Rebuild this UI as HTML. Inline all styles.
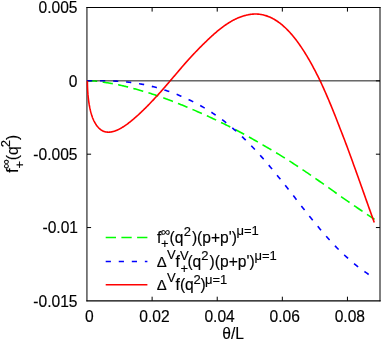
<!DOCTYPE html>
<html><head><meta charset="utf-8"><title>plot</title>
<style>html,body{margin:0;padding:0;background:#fff;}body{width:385px;height:348px;overflow:hidden;font-family:"Liberation Sans",sans-serif;}</style>
</head><body>
<svg width="385" height="348" viewBox="0 0 385 348" style="display:block;will-change:transform">
<rect width="385" height="348" fill="#fff"/>
<line x1="87.0" y1="80.83" x2="380.0" y2="80.83" stroke="#000" stroke-width="1" stroke-opacity="0.69"/>
<path d="M86.95,300.8 V7.5 M380.0,7.5 V300.8" fill="none" stroke="#000" stroke-width="1" stroke-linecap="square"/>
<path d="M86.95,7.5 H380.0" fill="none" stroke="#000" stroke-width="1" stroke-linecap="square"/>
<path d="M86.95,300.90000000000003 H380.0" fill="none" stroke="#000" stroke-width="1.2" stroke-linecap="square"/>
<line x1="152.112" y1="300.8" x2="152.112" y2="296.7" stroke="#000" stroke-width="1"/>
<line x1="152.112" y1="7.5" x2="152.112" y2="11.6" stroke="#000" stroke-width="1"/>
<line x1="217.224" y1="300.8" x2="217.224" y2="296.7" stroke="#000" stroke-width="1"/>
<line x1="217.224" y1="7.5" x2="217.224" y2="11.6" stroke="#000" stroke-width="1"/>
<line x1="282.336" y1="300.8" x2="282.336" y2="296.7" stroke="#000" stroke-width="1"/>
<line x1="282.336" y1="7.5" x2="282.336" y2="11.6" stroke="#000" stroke-width="1"/>
<line x1="347.448" y1="300.8" x2="347.448" y2="296.7" stroke="#000" stroke-width="1"/>
<line x1="347.448" y1="7.5" x2="347.448" y2="11.6" stroke="#000" stroke-width="1"/>
<line x1="87.0" y1="80.85" x2="91.1" y2="80.85" stroke="#000" stroke-width="1"/>
<line x1="380.0" y1="80.85" x2="375.9" y2="80.85" stroke="#000" stroke-width="1"/>
<line x1="87.0" y1="154.2" x2="91.1" y2="154.2" stroke="#000" stroke-width="1"/>
<line x1="380.0" y1="154.2" x2="375.9" y2="154.2" stroke="#000" stroke-width="1"/>
<line x1="87.0" y1="227.54999999999998" x2="91.1" y2="227.54999999999998" stroke="#000" stroke-width="1"/>
<line x1="380.0" y1="227.54999999999998" x2="375.9" y2="227.54999999999998" stroke="#000" stroke-width="1"/>
<clipPath id="cp"><rect x="86" y="0" width="299" height="348"/></clipPath><g clip-path="url(#cp)">
<path d="M87.00,80.75 L87.00,80.75 L87.01,80.75 L87.03,80.75 L87.05,80.75 L87.08,80.75 L87.12,80.75 L87.16,80.75 L87.21,80.75 L87.26,80.75 L87.32,80.75 L87.39,80.75 L87.46,80.75 L87.54,80.75 L87.63,80.75 L87.72,80.75 L87.82,80.75 L87.93,80.75 L88.04,80.76 L88.16,80.76 L88.29,80.76 L88.42,80.76 L88.56,80.76 L88.70,80.76 L88.85,80.77 L89.01,80.77 L89.17,80.77 L89.35,80.78 L89.52,80.78 L89.71,80.79 L89.90,80.79 L90.09,80.80 L90.29,80.80 L90.50,80.81 L90.72,80.81 L90.94,80.82 L91.17,80.83 L91.40,80.84 L91.65,80.85 L91.89,80.86 L92.15,80.87 L92.41,80.88 L92.67,80.89 L92.95,80.91 L93.23,80.92 L93.51,80.94 L93.81,80.95 L94.11,80.97 L94.41,80.99 L94.72,81.01 L95.04,81.03 L95.37,81.07 L95.70,81.11 L96.04,81.14 L96.38,81.18 L96.73,81.23 L97.09,81.27 L97.45,81.31 L97.82,81.36 L98.20,81.41 L98.58,81.46 L98.97,81.51 L99.37,81.57 L99.77,81.62 L100.18,81.68 L100.59,81.74 L101.01,81.81 L101.44,81.87 L101.88,81.94 L102.32,82.01 L102.76,82.08 L103.22,82.15 L103.68,82.23 L104.14,82.31 L104.62,82.39 L105.10,82.47 L105.58,82.54 L106.07,82.61 L106.57,82.68 L107.08,82.76 L107.59,82.83 L108.11,82.91 L108.63,83.00 L109.16,83.08 L109.70,83.17 L110.24,83.26 L110.79,83.35 L111.35,83.45 L111.91,83.55 L112.48,83.65 L113.06,83.76 L113.64,83.87 L114.23,83.98 L114.82,84.09 L115.43,84.21 L116.03,84.33 L116.65,84.45 L117.27,84.58 L117.90,84.71 L118.53,84.84 L119.17,84.98 L119.82,85.12 L120.47,85.27 L121.13,85.41 L121.79,85.57 L122.47,85.72 L123.15,85.88 L123.83,86.04 L124.52,86.21 L125.22,86.37 L125.93,86.55 L126.64,86.72 L127.35,86.90 L128.08,87.09 L128.81,87.28 L129.54,87.47 L130.29,87.66 L131.04,87.85 L131.79,88.04 L132.56,88.24 L133.32,88.44 L134.10,88.65 L134.88,88.86 L135.67,89.07 L136.46,89.29 L137.27,89.51 L138.07,89.73 L138.89,89.96 L139.71,90.20 L140.53,90.43 L141.37,90.67 L142.21,90.92 L143.05,91.17 L143.90,91.42 L144.76,91.68 L145.63,91.95 L146.50,92.21 L147.38,92.48 L148.26,92.76 L149.16,93.04 L150.05,93.32 L150.96,93.61 L151.87,93.90 L152.78,94.20 L153.71,94.50 L154.64,94.81 L155.57,95.12 L156.52,95.44 L157.46,95.75 L158.42,96.08 L159.38,96.41 L160.35,96.75 L161.32,97.10 L162.31,97.45 L163.29,97.81 L164.29,98.18 L165.29,98.54 L166.30,98.92 L167.31,99.30 L168.33,99.68 L169.35,100.07 L170.39,100.46 L171.43,100.86 L172.47,101.26 L173.52,101.67 L174.58,102.08 L175.65,102.50 L176.72,102.92 L177.80,103.35 L178.88,103.78 L179.97,104.22 L181.07,104.66 L182.17,105.11 L183.28,105.56 L184.40,106.02 L185.52,106.48 L186.65,106.95 L187.78,107.42 L188.93,107.90 L190.07,108.39 L191.23,108.88 L192.39,109.37 L193.56,109.87 L194.73,110.38 L195.91,110.89 L197.10,111.41 L198.29,111.93 L199.49,112.46 L200.70,112.99 L201.91,113.53 L203.13,114.07 L204.36,114.63 L205.59,115.18 L206.83,115.75 L208.07,116.31 L209.33,116.89 L210.58,117.47 L211.85,118.06 L213.12,118.65 L214.40,119.25 L215.68,119.86 L216.97,120.47 L218.27,121.09 L219.57,121.72 L220.88,122.35 L222.19,122.99 L223.52,123.64 L224.84,124.29 L226.18,124.95 L227.52,125.62 L228.87,126.29 L230.22,126.97 L231.58,127.66 L232.95,128.36 L234.32,129.06 L235.70,129.77 L237.09,130.49 L238.48,131.22 L239.88,131.95 L241.29,132.71 L242.70,133.48 L244.12,134.26 L245.54,135.04 L246.98,135.84 L248.41,136.64 L249.86,137.45 L251.31,138.27 L252.77,139.10 L254.23,139.94 L255.70,140.79 L257.18,141.64 L258.66,142.50 L260.15,143.38 L261.65,144.26 L263.15,145.12 L264.66,145.98 L266.17,146.85 L267.69,147.73 L269.22,148.62 L270.76,149.52 L272.30,150.43 L273.84,151.35 L275.40,152.27 L276.96,153.21 L278.53,154.16 L280.10,155.11 L281.68,156.08 L283.26,157.06 L284.86,158.04 L286.46,159.06 L288.06,160.09 L289.67,161.13 L291.29,162.17 L292.91,163.23 L294.55,164.30 L296.18,165.38 L297.83,166.46 L299.48,167.56 L301.13,168.67 L302.80,169.79 L304.47,170.92 L306.14,172.05 L307.83,173.20 L309.51,174.36 L311.21,175.52 L312.91,176.70 L314.62,177.88 L316.33,179.08 L318.06,180.28 L319.78,181.49 L321.52,182.71 L323.26,183.93 L325.00,185.17 L326.76,186.41 L328.52,187.66 L330.28,188.92 L332.06,190.18 L333.83,191.45 L335.62,192.73 L337.41,194.01 L339.21,195.30 L341.01,196.57 L342.83,197.82 L344.64,199.09 L346.47,200.35 L348.30,201.62 L350.13,202.89 L351.98,204.16 L353.83,205.43 L355.68,206.70 L357.55,207.97 L359.42,209.23 L361.29,210.50 L363.17,211.76 L365.06,213.02 L366.96,214.30 L368.86,215.59 L370.77,216.86 L372.68,218.12 L374.60,219.38" fill="none" stroke="#00ff00" stroke-width="1.6" stroke-dasharray="10.3 5.4"/>
<path d="M87.00,80.75 L87.00,80.75 L87.01,80.75 L87.03,80.75 L87.05,80.75 L87.08,80.75 L87.12,80.75 L87.16,80.75 L87.21,80.75 L87.26,80.75 L87.32,80.75 L87.39,80.75 L87.46,80.75 L87.54,80.75 L87.63,80.75 L87.72,80.75 L87.82,80.75 L87.93,80.75 L88.04,80.75 L88.16,80.75 L88.29,80.75 L88.42,80.75 L88.56,80.75 L88.70,80.75 L88.85,80.75 L89.01,80.75 L89.17,80.75 L89.34,80.75 L89.52,80.75 L89.70,80.75 L89.89,80.75 L90.09,80.75 L90.29,80.75 L90.50,80.75 L90.72,80.75 L90.94,80.75 L91.17,80.75 L91.40,80.75 L91.64,80.75 L91.89,80.75 L92.15,80.75 L92.41,80.75 L92.67,80.75 L92.95,80.75 L93.23,80.75 L93.51,80.74 L93.80,80.74 L94.10,80.74 L94.41,80.74 L94.72,80.74 L95.04,80.74 L95.36,80.74 L95.70,80.74 L96.03,80.74 L96.38,80.74 L96.73,80.74 L97.08,80.74 L97.45,80.74 L97.82,80.74 L98.19,80.74 L98.58,80.74 L98.97,80.75 L99.36,80.75 L99.76,80.75 L100.17,80.75 L100.59,80.75 L101.01,80.75 L101.44,80.76 L101.87,80.76 L102.31,80.76 L102.76,80.77 L103.21,80.77 L103.67,80.77 L104.14,80.78 L104.61,80.79 L105.09,80.79 L105.57,80.80 L106.07,80.81 L106.57,80.82 L107.07,80.82 L107.58,80.83 L108.10,80.85 L108.62,80.86 L109.15,80.87 L109.69,80.89 L110.23,80.90 L110.78,80.92 L111.34,80.94 L111.90,80.96 L112.47,80.98 L113.05,81.00 L113.63,81.02 L114.22,81.05 L114.81,81.08 L115.42,81.11 L116.02,81.14 L116.64,81.17 L117.26,81.20 L117.89,81.24 L118.52,81.28 L119.16,81.32 L119.80,81.37 L120.46,81.41 L121.12,81.46 L121.78,81.51 L122.45,81.57 L123.13,81.62 L123.82,81.68 L124.51,81.75 L125.21,81.81 L125.91,81.88 L126.62,81.96 L127.34,82.03 L128.06,82.11 L128.79,82.19 L129.53,82.28 L130.27,82.37 L131.02,82.47 L131.78,82.56 L132.54,82.67 L133.31,82.77 L134.08,82.88 L134.86,83.00 L135.65,83.12 L136.45,83.24 L137.25,83.37 L138.05,83.50 L138.87,83.64 L139.69,83.79 L140.51,83.93 L141.35,84.09 L142.19,84.25 L143.03,84.41 L143.89,84.58 L144.74,84.76 L145.61,84.94 L146.48,85.12 L147.36,85.32 L148.24,85.51 L149.13,85.72 L150.03,85.93 L150.93,86.15 L151.84,86.37 L152.76,86.60 L153.68,86.83 L154.61,87.08 L155.55,87.33 L156.49,87.58 L157.44,87.85 L158.40,88.12 L159.36,88.40 L160.32,88.68 L161.30,88.97 L162.28,89.28 L163.27,89.58 L164.26,89.90 L165.26,90.22 L166.27,90.56 L167.28,90.90 L168.30,91.25 L169.33,91.60 L170.36,91.97 L171.40,92.34 L172.44,92.73 L173.49,93.12 L174.55,93.52 L175.62,93.94 L176.69,94.36 L177.76,94.79 L178.85,95.23 L179.94,95.68 L181.03,96.14 L182.14,96.61 L183.25,97.10 L184.36,97.59 L185.49,98.10 L186.61,98.61 L187.75,99.14 L188.89,99.68 L190.04,100.23 L191.19,100.80 L192.35,101.37 L193.52,101.96 L194.70,102.57 L195.88,103.18 L197.06,103.81 L198.26,104.45 L199.45,105.11 L200.66,105.78 L201.87,106.47 L203.09,107.17 L204.32,107.89 L205.55,108.62 L206.79,109.37 L208.03,110.14 L209.28,110.92 L210.54,111.72 L211.80,112.53 L213.07,113.37 L214.35,114.22 L215.63,115.09 L216.92,115.98 L218.22,116.89 L219.52,117.81 L220.83,118.76 L222.15,119.73 L223.47,120.72 L224.80,121.72 L226.13,122.77 L227.47,123.85 L228.82,124.94 L230.17,126.06 L231.53,127.20 L232.90,128.37 L234.27,129.55 L235.65,130.77 L237.04,132.00 L238.43,133.26 L239.83,134.54 L241.24,135.85 L242.65,137.19 L244.07,138.55 L245.49,139.93 L246.92,141.34 L248.36,142.77 L249.80,144.24 L251.25,145.72 L252.71,147.24 L254.17,148.78 L255.64,150.34 L257.12,151.94 L258.60,153.55 L260.09,155.20 L261.59,156.87 L263.09,158.57 L264.60,160.29 L266.11,162.04 L267.63,163.81 L269.16,165.61 L270.69,167.43 L272.23,169.27 L273.78,171.14 L275.33,173.04 L276.89,174.95 L278.46,176.89 L280.03,178.84 L281.61,180.82 L283.20,182.82 L284.79,184.84 L286.39,186.85 L287.99,188.87 L289.60,190.91 L291.22,192.96 L292.84,195.03 L294.47,197.11 L296.11,199.20 L297.75,201.30 L299.40,203.41 L301.06,205.52 L302.72,207.64 L304.39,209.76 L306.07,211.89 L307.75,214.01 L309.44,216.13 L311.13,218.24 L312.83,220.35 L314.54,222.44 L316.25,224.53 L317.98,226.60 L319.70,228.67 L321.44,230.71 L323.18,232.75 L324.92,234.76 L326.67,236.75 L328.43,238.72 L330.20,240.67 L331.97,242.59 L333.75,244.49 L335.53,246.35 L337.32,248.19 L339.12,250.00 L340.93,251.77 L342.74,253.52 L344.55,255.24 L346.38,256.92 L348.21,258.57 L350.04,260.18 L351.89,261.75 L353.74,263.29 L355.59,264.80 L357.45,266.27 L359.32,267.71 L361.20,269.13 L363.08,270.51 L364.97,271.88 L366.86,273.22 L368.76,274.55 L370.67,275.87 L372.58,277.18 L374.50,278.50" fill="none" stroke="#0000ff" stroke-width="1.6" stroke-dasharray="5.2 7.85"/>
<path d="M87.40,80.75 L87.40,81.28 L87.40,81.82 L87.41,82.34 L87.41,82.87 L87.42,83.40 L87.43,83.92 L87.44,84.44 L87.45,84.96 L87.46,85.47 L87.47,85.99 L87.49,86.50 L87.51,87.01 L87.53,87.51 L87.55,88.02 L87.57,88.52 L87.59,89.03 L87.62,89.53 L87.64,90.02 L87.67,90.52 L87.70,91.01 L87.73,91.50 L87.76,91.99 L87.80,92.48 L87.83,92.97 L87.87,93.45 L87.91,93.94 L87.94,94.42 L87.99,94.89 L88.03,95.37 L88.07,95.85 L88.12,96.32 L88.17,96.79 L88.21,97.26 L88.26,97.72 L88.32,98.19 L88.37,98.65 L88.42,99.11 L88.48,99.57 L88.54,100.02 L88.60,100.48 L88.66,100.93 L88.72,101.38 L88.78,101.83 L88.85,102.27 L88.91,102.71 L88.98,103.16 L89.05,103.59 L89.12,104.03 L89.19,104.46 L89.27,104.89 L89.34,105.32 L89.42,105.75 L89.50,106.17 L89.58,106.60 L89.66,107.01 L89.74,107.43 L89.83,107.84 L89.91,108.26 L90.00,108.66 L90.09,109.07 L90.18,109.47 L90.27,109.87 L90.37,110.27 L90.46,110.67 L90.56,111.06 L90.65,111.45 L90.75,111.83 L90.86,112.22 L90.96,112.60 L91.06,112.98 L91.17,113.35 L91.27,113.72 L91.38,114.09 L91.49,114.46 L91.60,114.82 L91.72,115.18 L91.83,115.53 L91.95,115.89 L92.06,116.23 L92.18,116.58 L92.30,116.92 L92.42,117.26 L92.55,117.60 L92.67,117.93 L92.80,118.26 L92.93,118.59 L93.06,118.91 L93.20,119.23 L93.34,119.54 L93.48,119.86 L93.63,120.16 L93.78,120.47 L93.92,120.77 L94.07,121.07 L94.23,121.37 L94.38,121.67 L94.53,121.97 L94.69,122.26 L94.85,122.54 L95.01,122.83 L95.17,123.11 L95.33,123.38 L95.49,123.66 L95.66,123.93 L95.83,124.19 L96.00,124.45 L96.17,124.71 L96.34,124.96 L96.51,125.21 L96.69,125.46 L96.86,125.70 L97.04,125.93 L97.22,126.17 L97.40,126.40 L97.59,126.62 L97.77,126.84 L97.96,127.06 L98.15,127.27 L98.34,127.48 L98.53,127.69 L98.72,127.89 L98.92,128.09 L99.11,128.28 L99.31,128.47 L99.51,128.65 L99.71,128.83 L99.91,129.01 L100.12,129.18 L100.32,129.35 L100.53,129.51 L100.74,129.67 L100.95,129.82 L101.16,129.98 L101.38,130.12 L101.59,130.26 L101.81,130.40 L102.03,130.53 L102.25,130.66 L102.47,130.79 L102.69,130.91 L102.92,131.02 L103.14,131.13 L103.37,131.22 L103.60,131.31 L103.83,131.40 L104.07,131.48 L104.30,131.56 L104.54,131.63 L104.77,131.70 L105.01,131.76 L105.25,131.82 L105.50,131.88 L105.74,131.93 L105.99,131.97 L106.23,132.01 L106.48,132.05 L106.73,132.08 L106.99,132.11 L107.24,132.13 L107.49,132.15 L107.75,132.16 L108.01,132.17 L108.27,132.18 L108.53,132.18 L108.80,132.18 L109.06,132.17 L109.33,132.16 L109.60,132.14 L109.87,132.12 L110.14,132.09 L110.41,132.06 L110.68,132.02 L110.96,131.98 L111.24,131.94 L111.52,131.89 L111.80,131.84 L112.08,131.78 L112.38,131.72 L112.67,131.65 L112.96,131.58 L113.26,131.51 L113.56,131.43 L113.86,131.34 L114.16,131.25 L114.46,131.16 L114.77,131.06 L115.08,130.96 L115.39,130.84 L115.70,130.73 L116.01,130.60 L116.32,130.48 L116.63,130.34 L116.95,130.21 L117.27,130.07 L117.59,129.92 L117.91,129.77 L118.23,129.62 L118.56,129.46 L118.89,129.30 L119.21,129.13 L119.54,128.96 L119.87,128.78 L120.21,128.60 L120.54,128.41 L120.88,128.22 L121.22,128.03 L121.56,127.83 L121.90,127.63 L122.24,127.42 L122.58,127.21 L122.93,127.00 L123.28,126.78 L123.63,126.55 L123.98,126.32 L124.33,126.09 L124.69,125.85 L125.04,125.61 L125.40,125.37 L125.76,125.12 L126.12,124.86 L126.48,124.61 L126.85,124.34 L127.21,124.08 L127.58,123.80 L127.95,123.53 L128.32,123.25 L128.69,122.97 L129.07,122.68 L129.44,122.39 L129.82,122.09 L130.20,121.79 L130.58,121.48 L130.96,121.17 L131.35,120.86 L131.73,120.54 L132.12,120.22 L132.51,119.90 L132.90,119.57 L133.29,119.23 L133.69,118.90 L134.08,118.55 L134.48,118.21 L134.88,117.86 L135.28,117.50 L135.68,117.15 L136.08,116.80 L136.49,116.44 L136.90,116.08 L137.30,115.72 L137.71,115.35 L138.13,114.98 L138.54,114.60 L138.96,114.22 L139.37,113.84 L139.79,113.45 L140.21,113.06 L140.63,112.66 L141.06,112.26 L141.48,111.86 L141.91,111.45 L142.34,111.04 L142.77,110.63 L143.20,110.21 L143.63,109.79 L144.07,109.36 L144.50,108.93 L144.94,108.50 L145.38,108.06 L145.82,107.62 L146.27,107.18 L146.71,106.73 L147.16,106.28 L147.61,105.82 L148.06,105.36 L148.51,104.90 L148.96,104.43 L149.41,103.96 L149.87,103.49 L150.33,103.01 L150.79,102.53 L151.25,102.05 L151.71,101.56 L152.18,101.07 L152.64,100.58 L153.11,100.08 L153.58,99.58 L154.05,99.08 L154.52,98.57 L155.00,98.06 L155.48,97.54 L155.95,97.03 L156.43,96.51 L156.91,95.98 L157.40,95.46 L157.88,94.93 L158.37,94.39 L158.85,93.86 L159.34,93.32 L159.83,92.78 L160.33,92.23 L160.82,91.68 L161.32,91.13 L161.80,90.58 L162.29,90.02 L162.77,89.46 L163.26,88.90 L163.75,88.33 L164.25,87.76 L164.74,87.19 L165.24,86.62 L165.73,86.04 L166.23,85.46 L166.73,84.88 L167.23,84.30 L167.74,83.71 L168.24,83.12 L168.75,82.53 L169.26,81.93 L169.77,81.34 L170.28,80.74 L170.79,80.14 L171.31,79.54 L171.82,78.93 L172.34,78.32 L172.86,77.71 L173.38,77.10 L173.91,76.49 L174.43,75.88 L174.96,75.26 L175.48,74.64 L176.01,74.02 L176.54,73.40 L177.08,72.77 L177.61,72.15 L178.15,71.52 L178.68,70.89 L179.22,70.26 L179.76,69.63 L180.30,69.00 L180.85,68.36 L181.39,67.73 L181.94,67.09 L182.49,66.46 L183.04,65.82 L183.59,65.18 L184.14,64.54 L184.70,63.90 L185.25,63.26 L185.81,62.62 L186.37,61.98 L186.93,61.36 L187.50,60.74 L188.06,60.12 L188.63,59.50 L189.19,58.88 L189.76,58.25 L190.33,57.63 L190.91,57.01 L191.48,56.39 L192.06,55.77 L192.63,55.15 L193.21,54.53 L193.79,53.92 L194.37,53.30 L194.96,52.68 L195.54,52.06 L196.13,51.45 L196.72,50.84 L197.31,50.22 L197.90,49.61 L198.49,49.00 L199.09,48.39 L199.68,47.79 L200.28,47.18 L200.88,46.58 L201.48,45.98 L202.09,45.38 L202.69,44.78 L203.30,44.18 L203.90,43.59 L204.51,43.00 L205.12,42.41 L205.74,41.83 L206.35,41.24 L206.97,40.64 L207.58,40.04 L208.20,39.44 L208.82,38.85 L209.45,38.26 L210.07,37.67 L210.69,37.08 L211.32,36.50 L211.95,35.93 L212.58,35.36 L213.21,34.79 L213.84,34.22 L214.48,33.67 L215.12,33.11 L215.75,32.56 L216.39,32.02 L217.03,31.48 L217.68,30.94 L218.32,30.41 L218.97,29.89 L219.62,29.37 L220.26,28.86 L220.92,28.35 L221.57,27.85 L222.22,27.35 L222.88,26.87 L223.54,26.39 L224.19,25.91 L224.85,25.44 L225.52,24.98 L226.18,24.53 L226.85,24.08 L227.51,23.64 L228.18,23.21 L228.85,22.79 L229.52,22.37 L230.20,21.97 L230.87,21.57 L231.55,21.18 L232.23,20.79 L232.91,20.42 L233.59,20.06 L234.27,19.70 L234.95,19.36 L235.64,19.02 L236.33,18.70 L237.02,18.38 L237.71,18.08 L238.40,17.78 L239.09,17.50 L239.79,17.22 L240.49,16.96 L241.19,16.71 L241.89,16.46 L242.59,16.23 L243.29,16.02 L244.00,15.81 L244.71,15.62 L245.41,15.43 L246.12,15.26 L246.84,15.09 L247.55,14.93 L248.26,14.78 L248.98,14.64 L249.70,14.52 L250.42,14.41 L251.14,14.31 L251.86,14.23 L252.59,14.16 L253.31,14.11 L254.04,14.07 L254.77,14.05 L255.50,14.04 L256.23,14.04 L256.96,14.06 L257.69,14.10 L258.42,14.15 L259.15,14.22 L259.89,14.31 L260.62,14.42 L261.36,14.54 L262.10,14.68 L262.84,14.83 L263.58,15.00 L264.33,15.19 L265.07,15.40 L265.82,15.63 L266.57,15.87 L267.32,16.13 L268.07,16.40 L268.82,16.70 L269.58,17.02 L270.33,17.35 L271.09,17.70 L271.85,18.07 L272.61,18.46 L273.38,18.87 L274.14,19.30 L274.91,19.75 L275.67,20.22 L276.44,20.71 L277.21,21.23 L277.99,21.76 L278.76,22.31 L279.54,22.89 L280.31,23.48 L281.09,24.10 L281.87,24.74 L282.65,25.40 L283.44,26.08 L284.22,26.78 L285.01,27.51 L285.80,28.26 L286.59,29.03 L287.38,29.82 L288.17,30.63 L288.96,31.47 L289.76,32.33 L290.56,33.21 L291.36,34.11 L292.16,35.04 L292.96,35.99 L293.76,36.97 L294.57,37.98 L295.37,39.01 L296.18,40.07 L296.99,41.14 L297.80,42.25 L298.61,43.37 L299.43,44.52 L300.24,45.70 L301.06,46.89 L301.88,48.12 L302.70,49.36 L303.52,50.63 L304.34,51.93 L305.17,53.25 L305.99,54.59 L306.82,55.96 L307.65,57.35 L308.48,58.77 L309.32,60.21 L310.15,61.68 L310.99,63.17 L311.83,64.68 L312.66,66.22 L313.51,67.78 L314.35,69.37 L315.19,70.99 L316.04,72.62 L316.89,74.29 L317.73,75.97 L318.58,77.68 L319.44,79.42 L320.29,81.18 L321.13,82.96 L321.97,84.76 L322.81,86.59 L323.64,88.45 L324.48,90.33 L325.33,92.23 L326.17,94.15 L327.01,96.10 L327.86,98.07 L328.71,100.06 L329.56,102.07 L330.41,104.11 L331.26,106.17 L332.11,108.25 L332.97,110.36 L333.82,112.48 L334.68,114.63 L335.54,116.79 L336.40,118.98 L337.27,121.19 L338.13,123.42 L339.00,125.66 L339.86,127.93 L340.76,130.22 L341.66,132.52 L342.57,134.84 L343.47,137.19 L344.38,139.54 L345.29,141.93 L346.20,144.37 L347.11,146.82 L348.02,149.29 L348.94,151.77 L349.85,154.27 L350.77,156.78 L351.69,159.31 L352.61,161.84 L353.54,164.40 L354.46,166.96 L355.39,169.54 L356.32,172.12 L357.25,174.72 L358.18,177.33 L359.11,179.95 L360.04,182.57 L360.98,185.20 L361.92,187.84 L362.86,190.49 L363.80,193.14 L364.74,195.80 L365.68,198.46 L366.63,201.12 L367.58,203.79 L368.52,206.46 L369.47,209.12 L370.43,211.79 L371.38,214.46 L372.34,217.12 L373.29,219.78 L374.25,222.44" fill="none" stroke="#ff0000" stroke-width="1.6" stroke-linejoin="round"/>
</g>
<line x1="87.0" y1="80.83" x2="380.0" y2="80.83" stroke="#000" stroke-width="1" stroke-opacity="0.35"/>
<g font-family="Liberation Sans, sans-serif" font-size="15.6" fill="#000" stroke="#000" stroke-width="0.15">
<text x="77.5" y="13.30" text-anchor="end">0.005</text>
<text x="77.5" y="86.65" text-anchor="end">0</text>
<text x="77.5" y="160.00" text-anchor="end">-0.005</text>
<text x="78.0" y="233.35" text-anchor="end">-0.01</text>
<text x="77.5" y="306.70" text-anchor="end">-0.015</text>
<text x="89.40" y="322" text-anchor="middle">0</text>
<text x="154.51" y="322" text-anchor="middle">0.02</text>
<text x="219.62" y="322" text-anchor="middle">0.04</text>
<text x="284.74" y="322" text-anchor="middle">0.06</text>
<text x="349.85" y="322" text-anchor="middle">0.08</text>
<text x="233.20" y="339" text-anchor="middle">θ/L</text>
<text transform="translate(18.4,172.8) rotate(-90)"><tspan x="0.00" y="0.00">f</tspan><tspan x="4.20" y="-8.20" font-size="13.0">∞</tspan><tspan x="4.30" y="5.20" font-size="13.0">+</tspan><tspan x="12.50" y="0.00">(q</tspan><tspan x="25.60" y="-8.20" font-size="13.0">2</tspan><tspan x="32.80" y="0.00">)</tspan></text>
<line x1="105.7" y1="237.5" x2="147.4" y2="237.5" stroke="#00ff00" stroke-width="1.6" stroke-dasharray="10.3 5.4"/>
<line x1="105.7" y1="261.5" x2="147.4" y2="261.5" stroke="#0000ff" stroke-width="1.6" stroke-dasharray="5.2 7.85"/>
<line x1="105.7" y1="284.7" x2="147.4" y2="284.7" stroke="#ff0000" stroke-width="1.6"/>
<text><tspan x="156.90" y="242.60">f</tspan><tspan x="161.00" y="235.80" font-size="13.0">∞</tspan><tspan x="161.10" y="248.40" font-size="13.0">+</tspan><tspan x="169.50" y="242.60">(q</tspan><tspan x="183.80" y="235.80" font-size="13.0">2</tspan><tspan x="191.90" y="242.60">)(p+p')</tspan><tspan x="236.40" y="235.30" font-size="13.0">μ=1</tspan></text>
<text transform="translate(156.8,266.60) scale(0.96,0.91)">Δ</text>
<text><tspan x="167.00" y="259.10" font-size="13.0">V</tspan><tspan x="175.60" y="266.60">f</tspan><tspan x="180.00" y="260.30" font-size="13.0">V</tspan><tspan x="180.50" y="272.90" font-size="13.0">+</tspan><tspan x="187.40" y="266.60">(q</tspan><tspan x="201.30" y="260.10" font-size="13.0">2</tspan><tspan x="209.60" y="266.60">)(p+p')</tspan><tspan x="254.40" y="260.10" font-size="13.0">μ=1</tspan></text>
<text transform="translate(156.8,289.70) scale(0.96,0.91)">Δ</text>
<text><tspan x="167.00" y="282.20" font-size="13.0">V</tspan><tspan x="175.60" y="289.70">f(q</tspan><tspan x="193.50" y="284.20" font-size="13.0">2</tspan><tspan x="200.40" y="289.70">)</tspan><tspan x="205.00" y="284.20" font-size="13.0">μ=1</tspan></text>
</g>
</svg>
</body></html>
